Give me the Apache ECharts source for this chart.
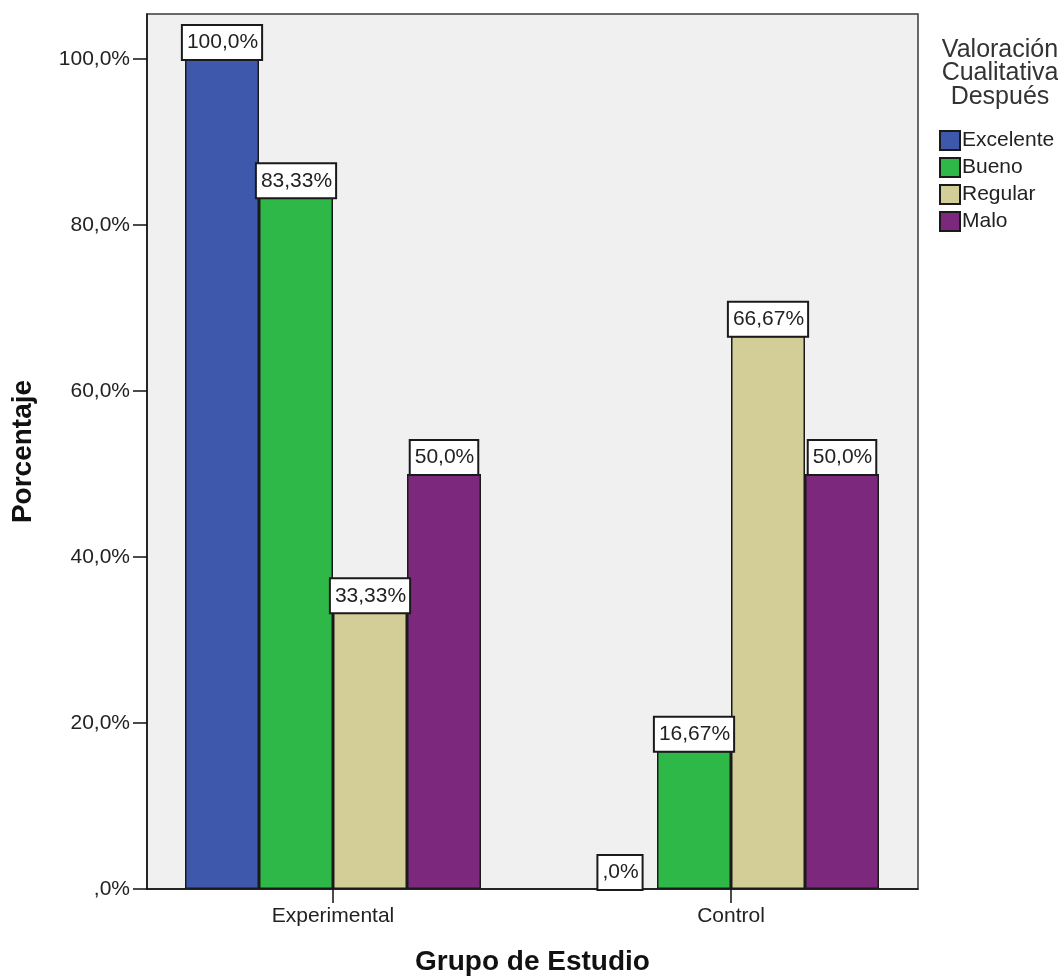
<!DOCTYPE html>
<html>
<head>
<meta charset="utf-8">
<title>Valoración Cualitativa Después por Grupo de Estudio</title>
<script src="https://cdn.jsdelivr.net/npm/echarts@6/dist/echarts.min.js"></script>
<style>
  html, body { margin: 0; padding: 0; background: #ffffff; }
  #chart { width: 1058px; height: 979px; }
</style>
</head>
<body>
<div id="chart"></div>
<script>
// Study groups along the category axis
const groups = ['Experimental', 'Control'];

// Percentage of each rating per group
const excelente = [100, 0];
const bueno = [83.33, 16.67];
const regular = [33.33, 66.67];
const malo = [50, 50];

// Rating names for the legend, in drawing order
const ratings = ['Excelente', 'Bueno', 'Regular', 'Malo'];
const ratingValues = [excelente, bueno, regular, malo];
const ratingColors = ['#3E58AC', '#2EB848', '#D3CE97', '#7C287D'];

// Tick values on the percentage axis
const yTicks = [0, 20, 40, 60, 80, 100];

const FONT = '"Liberation Sans", Arial, Helvetica, sans-serif';
const INK = '#222222';

// "83,33%" style with comma decimals; zero prints as ",0%"
function pct(v, fixedOne) {
  const s = (fixedOne || Number.isInteger(v)) ? v.toFixed(1) : v.toFixed(2);
  let out = s.replace('.', ',');
  if (Math.abs(v) < 1) out = out.replace(/^0/, '');
  return out + '%';
}

const Y_MAX = 105.42;

const chart = echarts.init(document.getElementById('chart'), null, { renderer: 'canvas' });

const series = ratings.map((name, i) => ({
  name: name,
  type: 'bar',
  xAxisIndex: 1,
  yAxisIndex: 1,
  // empty bars keep their label but draw no outline
  data: ratingValues[i].map(v => (v === 0 ? { value: v, itemStyle: { borderWidth: 0 } } : v)),
  barWidth: 74,
  barGap: '0%',
  itemStyle: { color: ratingColors[i], borderColor: '#1a1a1a', borderWidth: 1.5 },
  emphasis: { disabled: true },
  label: {
    show: true,
    position: 'top',
    distance: 0,
    formatter: p => pct(p.value),
    fontFamily: FONT,
    fontSize: 21,
    color: INK,
    backgroundColor: '#ffffff',
    borderColor: '#1a1a1a',
    borderWidth: 2,
    padding: [6, 3, 6, 4]
  }
}));

chart.setOption({
  animation: false,
  textStyle: { fontFamily: FONT },
  title: {
    text: 'Valoración\nCualitativa\nDespués',
    left: 995,
    top: 33,
    textAlign: 'center',
    textStyle: {
      fontFamily: FONT,
      fontWeight: 'normal',
      fontSize: 25,
      lineHeight: 23.5,
      color: '#333'
    }
  },
  legend: {
    orient: 'vertical',
    left: 934,
    top: 125,
    itemWidth: 20,
    itemHeight: 19,
    itemGap: 6,
    icon: 'rect',
    selectedMode: false,
    data: ratings,
    textStyle: { fontFamily: FONT, fontSize: 21, color: INK, padding: [0, 0, 0, -3] }
  },
  grid: [
    // frame of the plot: background, border and the percentage axis
    {
      left: 147, right: 140, top: 14, bottom: 90,
      outerBoundsMode: 'none',
      containLabel: false,
      show: true,
      backgroundColor: '#F0F0F0',
      borderColor: '#3a3a3a',
      borderWidth: 1.5
    },
    // bar layer, widened so the two groups sit on their ticks
    {
      left: 134, right: 128, top: 14, bottom: 90,
      outerBoundsMode: 'none',
      containLabel: false
    }
  ],
  xAxis: [
    {
      gridIndex: 0,
      type: 'category',
      data: groups,
      name: 'Grupo de Estudio',
      nameLocation: 'middle',
      nameGap: 59,
      nameMoveOverlap: false,
      nameTextStyle: { fontFamily: FONT, fontSize: 28, fontWeight: 'bold', color: '#111' },
      axisLine: { show: true, lineStyle: { color: '#111', width: 1.5 } },
      axisTick: { show: false },
      axisLabel: { show: false },
      splitLine: { show: false }
    },
    {
      gridIndex: 1,
      type: 'category',
      data: groups,
      axisLine: { show: false },
      axisTick: { show: true, alignWithLabel: true, length: 14, lineStyle: { color: '#111', width: 1.5 } },
      axisLabel: { fontFamily: FONT, fontSize: 21, color: INK, margin: 17 },
      splitLine: { show: false }
    }
  ],
  yAxis: [
    {
      gridIndex: 0,
      type: 'value',
      min: 0,
      max: Y_MAX,
      interval: 20,
      name: 'Porcentaje',
      nameLocation: 'middle',
      nameRotate: 90,
      nameGap: 110,
      nameMoveOverlap: false,
      nameTextStyle: { fontFamily: FONT, fontSize: 28, fontWeight: 'bold', color: '#111' },
      axisLine: { show: true, lineStyle: { color: '#111', width: 1.5 } },
      axisTick: { show: true, length: 14, customValues: yTicks, lineStyle: { color: '#111', width: 1.5 } },
      axisLabel: {
        customValues: yTicks,
        fontFamily: FONT,
        fontSize: 21,
        color: INK,
        margin: 17,
        formatter: v => (yTicks.indexOf(v) >= 0 ? pct(v, true) : '')
      },
      splitLine: { show: false }
    },
    {
      gridIndex: 1,
      type: 'value',
      min: 0,
      max: Y_MAX,
      interval: 20,
      show: false,
      splitLine: { show: false }
    }
  ],
  series: series
});
</script>
</body>
</html>
